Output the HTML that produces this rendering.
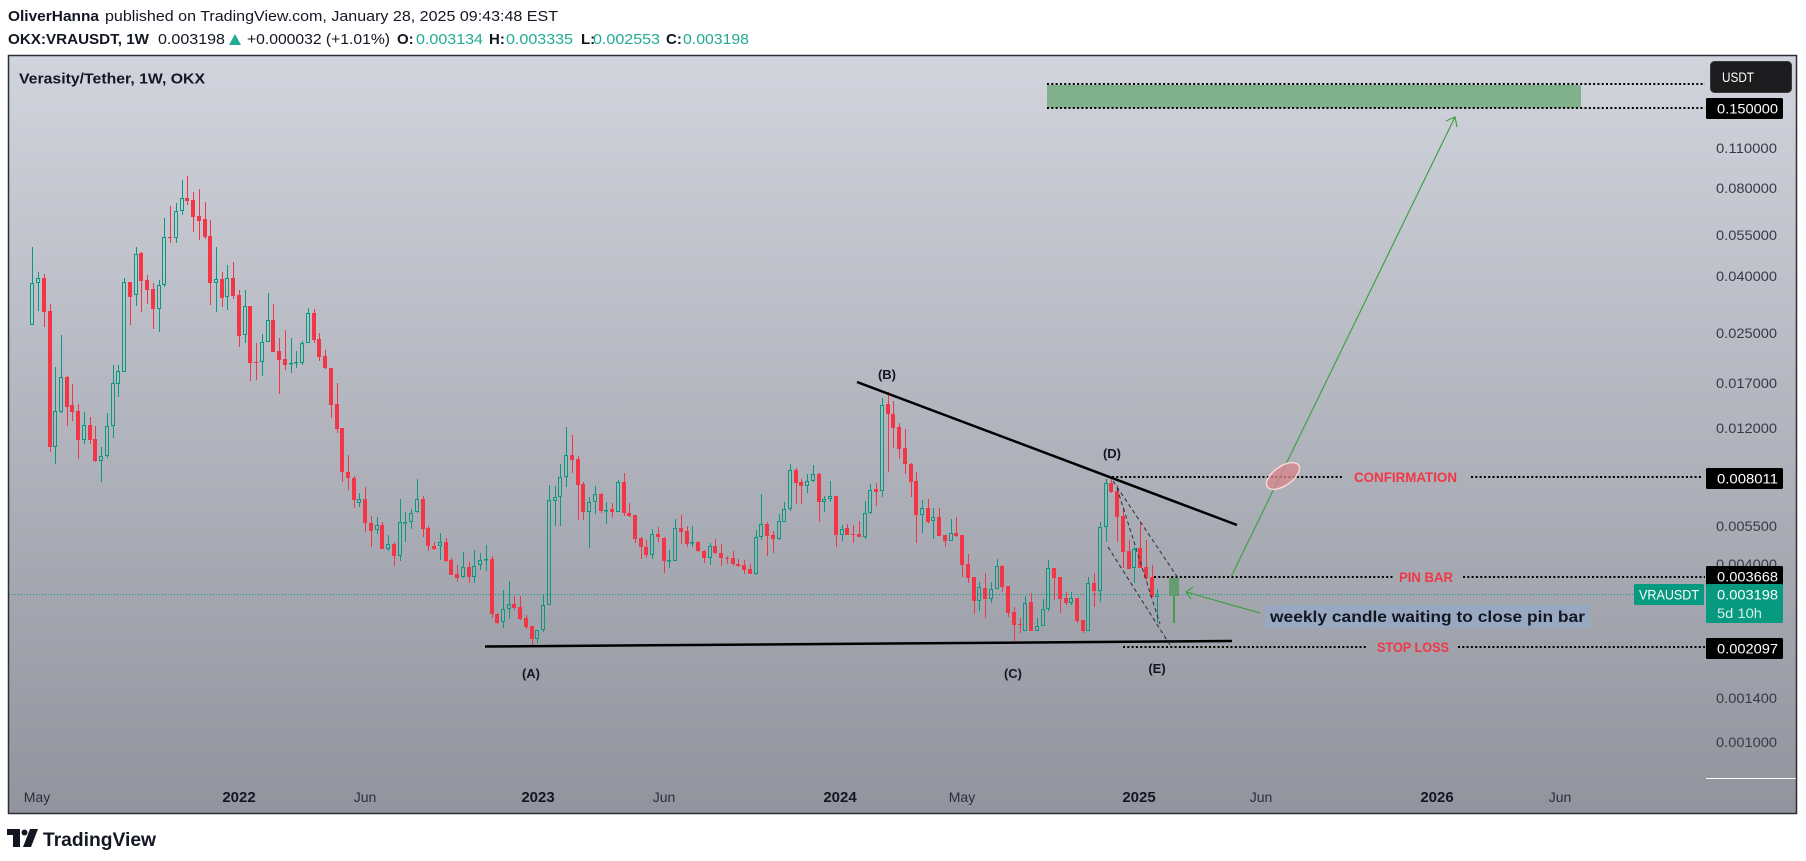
<!DOCTYPE html>
<html>
<head>
<meta charset="utf-8">
<style>
html,body{margin:0;padding:0;background:#fff;}
svg{display:block;}
text{font-family:"Liberation Sans",Arial,sans-serif;}
</style>
</head>
<body>
<svg id="root" width="1806" height="861" viewBox="0 0 1806 861" xmlns="http://www.w3.org/2000/svg">
<defs>
<linearGradient id="bg" x1="0" y1="0" x2="0" y2="1">
<stop offset="0" stop-color="#d1d4dc"/>
<stop offset="1" stop-color="#92949d"/>
</linearGradient>
</defs>
<rect width="1806" height="861" fill="#ffffff"/>

<!-- Header -->
<text x="8" y="21" font-size="15" fill="#131722" font-weight="bold" textLength="91" lengthAdjust="spacingAndGlyphs">OliverHanna</text>
<text x="105" y="21" font-size="15" fill="#131722" textLength="453" lengthAdjust="spacingAndGlyphs">published on TradingView.com, January 28, 2025 09:43:48 EST</text>
<text x="8" y="44" font-size="15" fill="#131722" font-weight="bold" textLength="141" lengthAdjust="spacingAndGlyphs">OKX:VRAUSDT, 1W</text>
<text x="158" y="44" font-size="15" fill="#131722" textLength="67" lengthAdjust="spacingAndGlyphs">0.003198</text>
<polygon points="229,45 241,45 235,34" fill="#22ab94"/>
<text x="247" y="44" font-size="15" fill="#131722" textLength="143" lengthAdjust="spacingAndGlyphs">+0.000032 (+1.01%)</text>
<text x="397" y="44" font-size="15" fill="#131722" font-weight="bold">O:</text>
<text x="416" y="44" font-size="15" fill="#22ab94" textLength="67" lengthAdjust="spacingAndGlyphs">0.003134</text>
<text x="489" y="44" font-size="15" fill="#131722" font-weight="bold">H:</text>
<text x="506" y="44" font-size="15" fill="#22ab94" textLength="67" lengthAdjust="spacingAndGlyphs">0.003335</text>
<text x="581" y="44" font-size="15" fill="#131722" font-weight="bold">L:</text>
<text x="593" y="44" font-size="15" fill="#22ab94" textLength="67" lengthAdjust="spacingAndGlyphs">0.002553</text>
<text x="666" y="44" font-size="15" fill="#131722" font-weight="bold">C:</text>
<text x="683" y="44" font-size="15" fill="#22ab94" textLength="66" lengthAdjust="spacingAndGlyphs">0.003198</text>

<!-- Chart background -->
<rect x="8" y="55" width="1789" height="759" fill="url(#bg)"/>

<!-- Title -->
<text x="19" y="83.5" font-size="15" font-weight="bold" fill="#131722" textLength="186" lengthAdjust="spacingAndGlyphs">Verasity/Tether, 1W, OKX</text>

<!-- Target zone -->
<rect x="1047" y="85" width="534" height="23" fill="#80b08c"/>
<g stroke="#000" stroke-width="2" stroke-dasharray="2 2.3" fill="none">
<line x1="1047" y1="84" x2="1705" y2="84"/>
<line x1="1047" y1="108" x2="1705" y2="108"/>
<line x1="1112" y1="477" x2="1343" y2="477"/>
<line x1="1471" y1="477" x2="1701" y2="477"/>
<line x1="1154" y1="577" x2="1393" y2="577"/>
<line x1="1463" y1="577" x2="1705" y2="577"/>
<line x1="1123" y1="647" x2="1367" y2="647"/>
<line x1="1458" y1="647" x2="1705" y2="647"/>
</g>

<!-- current price dotted line -->
<line x1="9" y1="594.5" x2="1634" y2="594.5" stroke="#089981" stroke-width="1" stroke-dasharray="1 2"/>

<!-- Candles -->
<g id="c"></g>

<!-- projected pin bar -->
<rect x="1169" y="578" width="10" height="18" fill="#5e9b6b" fill-opacity="0.9"/>
<line x1="1174" y1="596" x2="1174" y2="623" stroke="#43a047" stroke-width="2"/>

<!-- Trendlines -->
<line x1="857" y1="382" x2="1237" y2="525" stroke="#000" stroke-width="2.5"/>
<line x1="485" y1="646.5" x2="1232" y2="641" stroke="#000" stroke-width="2.5"/>

<!-- wedge dashed lines -->
<g stroke="#2a2e39" stroke-width="1" stroke-dasharray="4 3" fill="none">
<line x1="1113" y1="481" x2="1178" y2="578"/>
<line x1="1117" y1="488" x2="1160" y2="624"/>
<line x1="1108" y1="547" x2="1172" y2="648"/>
</g>

<!-- Green projection arrow -->
<line x1="1231" y1="577" x2="1455" y2="117" stroke="#43a047" stroke-width="1.2"/>
<polyline points="1446,121 1455,117 1457,127" fill="none" stroke="#43a047" stroke-width="1.2"/>

<!-- Confirmation ellipse -->
<ellipse cx="1283" cy="476" rx="19" ry="9.5" transform="rotate(-35 1283 476)" fill="#d9848c" fill-opacity="0.75" stroke="#f6d6d8" stroke-width="1.5"/>

<!-- arrow to candle -->
<line x1="1260" y1="613" x2="1186" y2="592" stroke="#43a047" stroke-width="1.2"/>
<polyline points="1193,587 1186,592 1191,599" fill="none" stroke="#43a047" stroke-width="1.2"/>

<!-- text box -->
<rect x="1265" y="605" width="325" height="23" fill="#98a8c0"/>
<text x="1270" y="622" font-size="15.5" font-weight="bold" fill="#131722" textLength="315" lengthAdjust="spacingAndGlyphs">weekly candle waiting to close pin bar</text>

<!-- level texts -->
<text x="1354" y="482" font-size="13.5" font-weight="bold" fill="#f23645" textLength="103" lengthAdjust="spacingAndGlyphs">CONFIRMATION</text>
<text x="1399" y="582" font-size="13.5" font-weight="bold" fill="#f23645" textLength="54" lengthAdjust="spacingAndGlyphs">PIN BAR</text>
<text x="1377" y="652" font-size="13.5" font-weight="bold" fill="#f23645" textLength="72" lengthAdjust="spacingAndGlyphs">STOP LOSS</text>

<!-- wave labels -->
<g font-size="13" font-weight="bold" fill="#131722" text-anchor="middle">
<text x="531" y="678">(A)</text>
<text x="887" y="379">(B)</text>
<text x="1013" y="678">(C)</text>
<text x="1112" y="458">(D)</text>
<text x="1157" y="673">(E)</text>
</g>

<!-- Price axis labels -->
<g font-size="14" fill="#363a45">
<text x="1716" y="153" textLength="61" lengthAdjust="spacingAndGlyphs">0.110000</text>
<text x="1716" y="193" textLength="61" lengthAdjust="spacingAndGlyphs">0.080000</text>
<text x="1716" y="240" textLength="61" lengthAdjust="spacingAndGlyphs">0.055000</text>
<text x="1716" y="281" textLength="61" lengthAdjust="spacingAndGlyphs">0.040000</text>
<text x="1716" y="338" textLength="61" lengthAdjust="spacingAndGlyphs">0.025000</text>
<text x="1716" y="388" textLength="61" lengthAdjust="spacingAndGlyphs">0.017000</text>
<text x="1716" y="433" textLength="61" lengthAdjust="spacingAndGlyphs">0.012000</text>
<text x="1716" y="531" textLength="61" lengthAdjust="spacingAndGlyphs">0.005500</text>
<text x="1716" y="569" textLength="61" lengthAdjust="spacingAndGlyphs">0.004000</text>
<text x="1716" y="703" textLength="61" lengthAdjust="spacingAndGlyphs">0.001400</text>
<text x="1716" y="747" textLength="61" lengthAdjust="spacingAndGlyphs">0.001000</text>
</g>

<!-- USDT box -->
<rect x="1710.5" y="61.5" width="81" height="31" rx="4" fill="#1c1c1e" stroke="#3a3a3c"/>
<text x="1722" y="82" font-size="14" fill="#ffffff" textLength="32" lengthAdjust="spacingAndGlyphs">USDT</text>

<!-- price boxes -->
<rect x="1706" y="98" width="77" height="21" rx="1.5" fill="#000"/>
<text x="1717" y="113.5" font-size="14" fill="#fff" textLength="61" lengthAdjust="spacingAndGlyphs">0.150000</text>
<rect x="1706" y="468" width="77" height="21" rx="1.5" fill="#000"/>
<text x="1717" y="483.5" font-size="14" fill="#fff" textLength="61" lengthAdjust="spacingAndGlyphs">0.008011</text>
<rect x="1706" y="566" width="77" height="20" rx="1.5" fill="#000"/>
<text x="1717" y="581.5" font-size="14" fill="#fff" textLength="61" lengthAdjust="spacingAndGlyphs">0.003668</text>
<rect x="1706" y="584" width="77" height="39" rx="1.5" fill="#089981"/>
<text x="1717" y="599.5" font-size="14" fill="#ffffff" textLength="61" lengthAdjust="spacingAndGlyphs">0.003198</text>
<text x="1717" y="618" font-size="14" fill="#d7f0ea" textLength="45" lengthAdjust="spacingAndGlyphs">5d 10h</text>
<rect x="1634" y="584" width="70" height="21" rx="1.5" fill="#089981"/>
<text x="1639" y="599.5" font-size="14" fill="#ffffff" textLength="60" lengthAdjust="spacingAndGlyphs">VRAUSDT</text>
<rect x="1706" y="638" width="77" height="21" rx="1.5" fill="#000"/>
<text x="1717" y="653.5" font-size="14" fill="#fff" textLength="61" lengthAdjust="spacingAndGlyphs">0.002097</text>

<!-- axis separator -->
<line x1="1706" y1="778.5" x2="1796" y2="778.5" stroke="#ffffff" stroke-width="1"/>

<!-- Time axis labels -->
<g text-anchor="middle" fill="#2a2e39">
<text x="37" y="802" font-size="14">May</text>
<text x="239" y="802" font-size="15" font-weight="bold" fill="#131722">2022</text>
<text x="365" y="802" font-size="14">Jun</text>
<text x="538" y="802" font-size="15" font-weight="bold" fill="#131722">2023</text>
<text x="664" y="802" font-size="14">Jun</text>
<text x="840" y="802" font-size="15" font-weight="bold" fill="#131722">2024</text>
<text x="962" y="802" font-size="14">May</text>
<text x="1139" y="802" font-size="15" font-weight="bold" fill="#131722">2025</text>
<text x="1261" y="802" font-size="14">Jun</text>
<text x="1437" y="802" font-size="15" font-weight="bold" fill="#131722">2026</text>
<text x="1560" y="802" font-size="14">Jun</text>
</g>

<!-- Frame -->
<rect x="8.5" y="55.5" width="1788" height="758" fill="none" stroke="#2a2e39" stroke-width="1.5"/>

<!-- Logo -->
<g fill="#131722">
<path d="M7 829 H20 V847 H13 V835 H7 Z"/>
<circle cx="24.5" cy="832.5" r="3"/>
<path d="M30 829 H38 L31 847 H23 Z"/>
</g>
<text x="43" y="846" font-size="19" font-weight="bold" fill="#131722" textLength="113" lengthAdjust="spacingAndGlyphs">TradingView</text>
</svg>

<script>
(function(){
var d=[
283,325,247,325,1, 278,283,272,311,1, 278,312,274,327,0, 311,447,304,452,0, 411,447,367,464,1,
377,412,335,413,1, 377,407,376,426,0, 405,412,384,421,0, 411,440,404,459,0, 425,440,412,444,1,
425,440,417,444,0, 439,461,426,462,0, 456,461,447,482,1, 426,456,413,458,1, 383,426,365,438,1,
371,384,365,397,1, 282,372,278,372,1, 282,297,282,325,0, 254,295,247,306,1, 253,281,252,312,0,
280,290,275,304,0, 289,309,283,329,0, 285,309,280,332,1, 237,285,218,287,1, 237,238,206,243,0,
211,238,203,243,1, 198,211,180,215,1, 198,201,176,205,0, 200,217,192,232,0, 216,221,189,240,0,
219,237,202,239,0, 236,283,220,305,0, 279,283,247,312,1, 279,298,272,307,0, 278,297,265,310,1,
278,296,262,299,0, 295,336,290,347,0, 306,335,290,343,1, 306,363,306,381,0, 362,363,343,380,0,
342,362,334,376,1, 320,342,293,342,1, 320,352,304,352,0, 351,360,338,394,0, 359,365,330,370,0,
363,364,338,373,1, 362,363,351,368,1, 343,363,341,365,1, 313,343,308,343,1, 313,340,309,343,0,
339,357,333,361,0, 356,368,350,369,0, 368,405,368,418,0, 404,429,383,433,0, 428,472,428,482,0,
472,478,455,490,0, 478,500,476,508,0, 499,503,493,507,1, 499,523,487,532,0, 523,531,516,547,0,
525,530,517,534,1, 525,549,522,549,0, 544,549,535,551,1, 544,556,542,566,0, 522,556,499,561,1,
522,523,512,542,1, 513,522,509,529,1, 499,512,479,513,1, 499,529,496,537,0, 528,546,526,551,0,
546,549,542,550,0, 542,546,533,560,1, 542,561,538,562,0, 560,575,558,575,0, 574,578,565,582,0,
567,577,552,578,1, 567,577,562,583,0, 566,577,550,583,1, 560,565,553,570,1, 559,560,545,571,1,
559,614,556,618,0, 614,623,613,624,0, 609,622,590,628,1, 604,609,581,619,1, 604,608,596,610,0,
607,619,596,620,0, 618,627,615,629,0, 626,639,626,645,0, 630,639,630,643,1, 605,630,594,632,1,
500,605,485,605,1, 497,501,486,526,1, 477,497,464,526,1, 455,477,427,487,1, 455,460,435,473,0,
459,485,456,520,0, 484,512,482,520,0, 502,512,497,548,1, 494,502,486,514,1, 494,511,493,513,0,
510,511,502,524,1, 509,512,503,518,0, 482,512,480,512,1, 482,513,473,516,0, 513,516,503,517,0,
515,539,515,543,0, 538,547,537,559,0, 547,555,540,558,0, 534,555,529,559,1, 534,537,527,542,0,
538,561,537,573,0, 560,561,550,568,1, 528,561,519,561,1, 528,532,515,544,0, 531,544,526,547,0,
542,543,526,547,1, 542,551,541,552,0, 551,558,550,563,0, 546,558,543,565,1, 546,553,539,554,0,
553,558,544,566,0, 558,559,556,564,0, 558,564,551,566,0, 564,566,559,567,0, 565,570,560,574,0,
569,574,564,574,0, 537,574,530,575,1, 524,537,494,540,1, 524,536,522,556,0, 535,539,531,553,0,
521,539,514,540,1, 509,522,502,522,1, 470,509,464,511,1, 470,483,468,504,0, 482,486,479,504,0,
481,486,474,493,1, 474,481,465,482,1, 474,502,473,522,0, 499,502,496,512,1, 496,499,481,502,1,
496,535,496,547,0, 529,535,525,541,1, 528,535,524,535,0, 534,535,525,543,0, 534,537,521,537,0,
513,537,501,539,1, 490,513,484,514,1, 489,492,483,506,0, 405,491,398,497,1, 404,414,392,472,0,
414,428,401,448,0, 427,449,423,459,0, 448,464,429,474,0, 464,482,463,497,0, 481,515,472,543,0,
508,515,500,533,1, 508,522,499,523,0, 517,521,508,539,1, 517,536,508,536,0, 535,541,535,547,0,
533,541,519,541,1, 533,536,517,537,0, 535,565,535,577,0, 564,578,554,583,0, 577,601,577,614,0,
587,601,582,611,1, 588,599,573,618,0, 589,599,582,603,1, 566,589,559,589,1, 566,587,565,592,0,
586,613,586,617,0, 612,625,607,642,0, 624,625,618,633,0, 603,631,596,631,1, 602,631,593,631,0,
626,631,618,631,1, 609,626,599,626,1, 568,609,560,611,1, 568,578,568,600,0, 577,599,577,613,0,
598,603,592,605,0, 598,603,592,605,1, 598,621,598,623,0, 620,631,620,633,0, 583,631,577,631,1,
583,591,573,607,0, 527,591,522,602,1, 483,527,479,542,1, 483,492,477,493,0, 491,517,485,542,0,
516,552,507,568,0, 551,569,540,569,0, 549,568,547,583,1, 548,568,522,568,0, 567,578,540,580,0,
577,597,565,597,0, 594,597,589,623,1
];
var ns="http://www.w3.org/2000/svg";
var g=document.getElementById("c");
function el(tag,attrs){var e=document.createElementNS(ns,tag);for(var k in attrs)e.setAttribute(k,attrs[k]);g.appendChild(e);return e;}
var n=d.length/5;
for(var i=0;i<n;i++){
  var bt=d[i*5],bb=d[i*5+1],wt=d[i*5+2],wb=d[i*5+3],u=d[i*5+4];
  var cx=Math.round(32.3+5.74*i)+0.5;
  var col=u?"#089981":"#f23645";
  if(u){
    if(wt<bt) el("line",{x1:cx,x2:cx,y1:wt,y2:bt,stroke:col,"stroke-width":1});
    if(wb>bb) el("line",{x1:cx,x2:cx,y1:bb,y2:wb,stroke:col,"stroke-width":1});
    var h=bb-bt-1; if(h<0.5)h=0.5;
    el("rect",{x:cx-2,y:bt+0.5,width:3,height:h,fill:"none",stroke:col,"stroke-width":1});
  }else{
    el("line",{x1:cx,x2:cx,y1:wt,y2:Math.max(wb,bb),stroke:col,"stroke-width":1});
    var h2=bb-bt; if(h2<1)h2=1;
    el("rect",{x:cx-2.5,y:bt,width:4,height:h2,fill:col});
  }
}
})();
</script>
</body>
</html>
